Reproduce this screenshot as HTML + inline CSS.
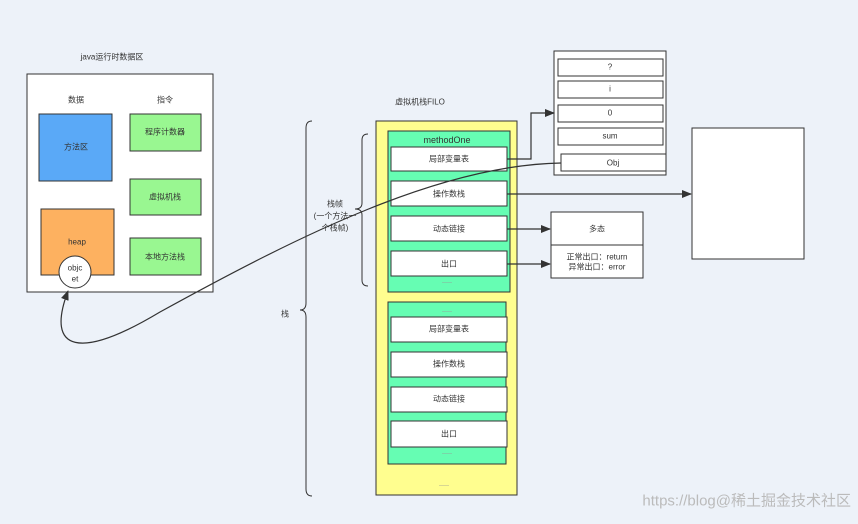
<!DOCTYPE html>
<html><head><meta charset="utf-8"><style>
body{margin:0;background:#edf2f9;}
svg text{font-family:"Liberation Sans","Noto Sans CJK SC",sans-serif;font-size:8px;fill:#333;text-anchor:middle;dominant-baseline:central;}
</style></head><body>
<svg width="858" height="519" viewBox="0 0 858 519" xmlns="http://www.w3.org/2000/svg">
<defs><marker id="a" markerWidth="10" markerHeight="8" refX="9" refY="4" orient="auto" markerUnits="userSpaceOnUse"><path d="M0,0 L10,4 L0,8 z" fill="#333"/></marker></defs>
<rect width="858" height="519" fill="#edf2f9"/>
<text x="112" y="57">java运行时数据区</text>
<rect x="27" y="74" width="186" height="218" fill="#fff" stroke="#333"/>
<text x="76" y="100">数据</text><text x="165" y="100">指令</text>
<rect x="39" y="114" width="73" height="67" fill="#5aa9f7" stroke="#333"/><text x="76" y="147">方法区</text>
<rect x="130" y="114" width="71" height="37" fill="#99f791" stroke="#333"/><text x="165" y="132">程序计数器</text>
<rect x="130" y="179" width="71" height="36" fill="#99f791" stroke="#333"/><text x="165" y="197">虚拟机栈</text>
<rect x="130" y="238" width="71" height="37" fill="#99f791" stroke="#333"/><text x="165" y="257">本地方法栈</text>
<rect x="41" y="209" width="73" height="66" fill="#fdb160" stroke="#333"/><text x="77" y="242">heap</text>
<circle cx="75" cy="272" r="16" fill="#fff" stroke="#333"/><text x="75" y="268">objc</text><text x="75" y="279">et</text>
<text x="285" y="314">栈</text>
<path d="M312,121 Q306,121 306,128 L306,303 Q306,310 300,310 Q306,310 306,317 L306,489 Q306,496 312,496" fill="none" stroke="#333"/>
<path d="M368,134 Q362,134 362,140 L362,203 Q362,209 355,209 Q362,209 362,215 L362,280 Q362,286 368,286" fill="none" stroke="#333"/>
<text x="335" y="204">栈帧</text><text x="335" y="216">(一个方法一</text><text x="335" y="228">个栈帧)</text>
<text x="420" y="102">虚拟机栈FILO</text>
<rect x="376" y="121" width="141" height="374" fill="#fffe8f" stroke="#333"/>
<rect x="388" y="131" width="122" height="161" fill="#66fdb3" stroke="#333"/>
<text x="447" y="140" style="font-size:9px">methodOne</text>
<g fill="#fff" stroke="#333"><rect x="391" y="147" width="116" height="24"/><rect x="391" y="181" width="116" height="25"/><rect x="391" y="216" width="116" height="25"/><rect x="391" y="251" width="116" height="25"/></g>
<text x="449" y="159">局部变量表</text><text x="449" y="194">操作数栈</text><text x="449" y="229">动态链接</text><text x="449" y="264">出口</text>
<text x="447" y="283" style="font-size:5px;fill:#999">——</text>
<rect x="388" y="302" width="118" height="162" fill="#66fdb3" stroke="#333"/>
<text x="447" y="312" style="font-size:5px;fill:#999">——</text>
<g fill="#fff" stroke="#333"><rect x="391" y="317" width="116" height="25"/><rect x="391" y="352" width="116" height="25"/><rect x="391" y="387" width="116" height="25"/><rect x="391" y="421" width="116" height="26"/></g>
<text x="449" y="329">局部变量表</text><text x="449" y="364">操作数栈</text><text x="449" y="399">动态链接</text><text x="449" y="434">出口</text>
<text x="447" y="454" style="font-size:5px;fill:#999">——</text>
<text x="444" y="486" style="font-size:5px;fill:#999">——</text>
<rect x="554" y="51" width="112" height="124" fill="#fff" stroke="#333"/>
<g fill="#fff" stroke="#333"><rect x="558" y="59" width="105" height="17"/><rect x="558" y="81" width="105" height="17"/><rect x="558" y="105" width="105" height="17"/><rect x="558" y="128" width="105" height="17"/><rect x="561" y="154" width="105" height="17"/></g>
<text x="610" y="67">?</text><text x="610" y="89">i</text><text x="610" y="113">0</text><text x="610" y="136">sum</text><text x="613" y="163">Obj</text>
<rect x="692" y="128" width="112" height="131" fill="#fff" stroke="#333"/>
<rect x="551" y="212" width="92" height="66" fill="#fff" stroke="#333"/><line x1="551" y1="245" x2="643" y2="245" stroke="#333"/>
<text x="597" y="229">多态</text><text x="597" y="257">正常出口：return</text><text x="597" y="267">异常出口：error</text>
<g fill="none" stroke="#333" stroke-width="1.2">
<path d="M507,159 L531,159 L531,113 L554,113" marker-end="url(#a)"/>
<path d="M507,194 L691,194" marker-end="url(#a)"/>
<path d="M507,229 L550,229" marker-end="url(#a)"/>
<path d="M507,264 L550,264" marker-end="url(#a)"/>
<path d="M561,163 C440,165 300,235 160,312 C80,360 45,352 68,291" marker-end="url(#a)"/>
</g>
<text x="851" y="501" style="font-size:15px;fill:#bbb;text-anchor:end">https://blog@稀土掘金技术社区</text>
</svg>
</body></html>
